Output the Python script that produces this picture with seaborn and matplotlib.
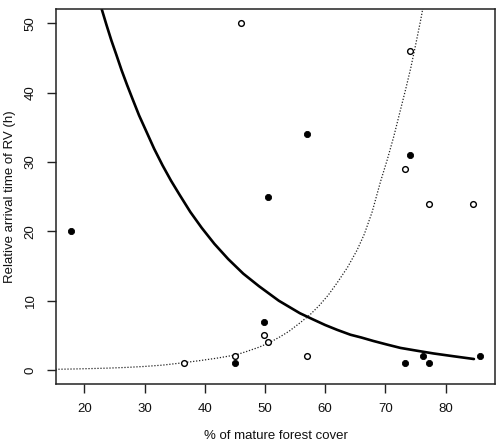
import matplotlib
matplotlib.use("Agg")
import matplotlib.pyplot as plt
import seaborn as sns
import pandas as pd

# Points: filled vs open symbols
filled_x = [17.8, 57.0, 50.5, 74.1, 49.8, 45.05, 73.2, 76.2, 77.2, 85.7]
filled_y = [20, 34, 25, 31, 7, 1, 1, 2, 1, 2]
open_x = [46.1, 74.05, 73.2, 77.2, 84.55, 36.55, 45.05, 49.8, 50.55, 57.05]
open_y = [50, 46, 29, 24, 24, 1, 2, 5, 4, 2]

# Fitted curves
solid_x = [22.9, 23.7, 24.5, 25.3, 26.2, 27.1, 28.0, 29.1, 30.3, 31.6, 33.0, 34.4, 35.8, 37.6, 39.5,
           41.6, 43.9, 46.4, 49.0, 52.3, 55.8, 58.0, 60.0, 62.0, 64.2, 66.0, 68.0, 70.2, 72.5, 75.2,
           78.0, 81.3, 84.7]
solid_y = [52.0, 49.7, 47.5, 45.5, 43.2, 41.1, 39.1, 36.7, 34.4, 31.9, 29.5, 27.3, 25.3, 22.8, 20.5,
           18.2, 16.0, 13.9, 12.1, 10.0, 8.2, 7.3, 6.5, 5.8, 5.1, 4.7, 4.2, 3.7, 3.2, 2.8,
           2.4, 2.0, 1.6]
dotted_x = [15.2, 18, 21, 24, 27, 30, 33, 36.3, 39, 42, 45.2, 47, 49, 50.7, 52.5, 54, 55.8, 57.5,
            59, 60.5, 62, 63.7, 65.3, 66.5, 67.8, 69.2, 70.3, 71.4, 72.5, 73.4, 74.2, 75, 75.8, 76.6]
dotted_y = [0.12, 0.16, 0.22, 0.29, 0.39, 0.53, 0.72, 1.05, 1.35, 1.72, 2.2, 2.7, 3.3, 3.94, 4.8, 5.6,
            6.8, 8.0, 9.3, 10.8, 12.6, 14.8, 17.3, 19.6, 22.8, 27.2, 30.3, 33.7, 37.5, 40.6, 43.5,
            46.8, 50.2, 53.9]

xticks = [20, 30, 40, 50, 60, 70, 80]
yticks = [0, 10, 20, 30, 40, 50]

sns.set_style("ticks")
plt.rcParams['font.family'] = ['Liberation Sans', 'DejaVu Sans']

fig = plt.figure(figsize=(4.98, 4.46), dpi=100)
ax = fig.add_axes([56 / 498, 1 - 384 / 446, 439 / 498, 374.7 / 446])

solid = pd.DataFrame({'x': solid_x, 'y': solid_y})
dotted = pd.DataFrame({'x': dotted_x, 'y': dotted_y})
sns.lineplot(data=solid, x='x', y='y', estimator=None, sort=False, color='black', linewidth=1.9, ax=ax)
sns.lineplot(data=dotted, x='x', y='y', estimator=None, sort=False, color='#222222', linewidth=0.9,
             linestyle=(0, (1, 1.4)), ax=ax)

sns.scatterplot(x=filled_x, y=filled_y, color='black', edgecolor='black', s=20, linewidth=0.6, ax=ax, zorder=3)
sns.scatterplot(x=open_x, y=open_y, color='white', edgecolor='black', s=17, linewidth=1.0, ax=ax, zorder=3)

ax.set_xlim(15.3, 88.2)
ax.set_ylim(-2, 52)
ax.set_xticks(xticks)
ax.set_yticks(yticks)
ax.set_xticklabels([str(v) for v in xticks], fontsize=9.5)
ax.set_yticklabels([str(v) for v in yticks], fontsize=9.5, rotation=90, va='center')
ax.tick_params(length=6.5, width=1, color='#222222', pad=7.5, labelcolor='#111111')

for s in ax.spines.values():
    s.set_color('#222222')
    s.set_linewidth(1.1)

ax.set_xlabel('% of mature forest cover', fontsize=9.5, color='#111111')
ax.set_ylabel('Relative arrival time of RV (h)', fontsize=9.5, color='#111111')
ax.xaxis.set_label_coords(0.5, -0.124)
ax.yaxis.set_label_coords(-0.092, 0.5)

fig.savefig('out.png', dpi=100)
